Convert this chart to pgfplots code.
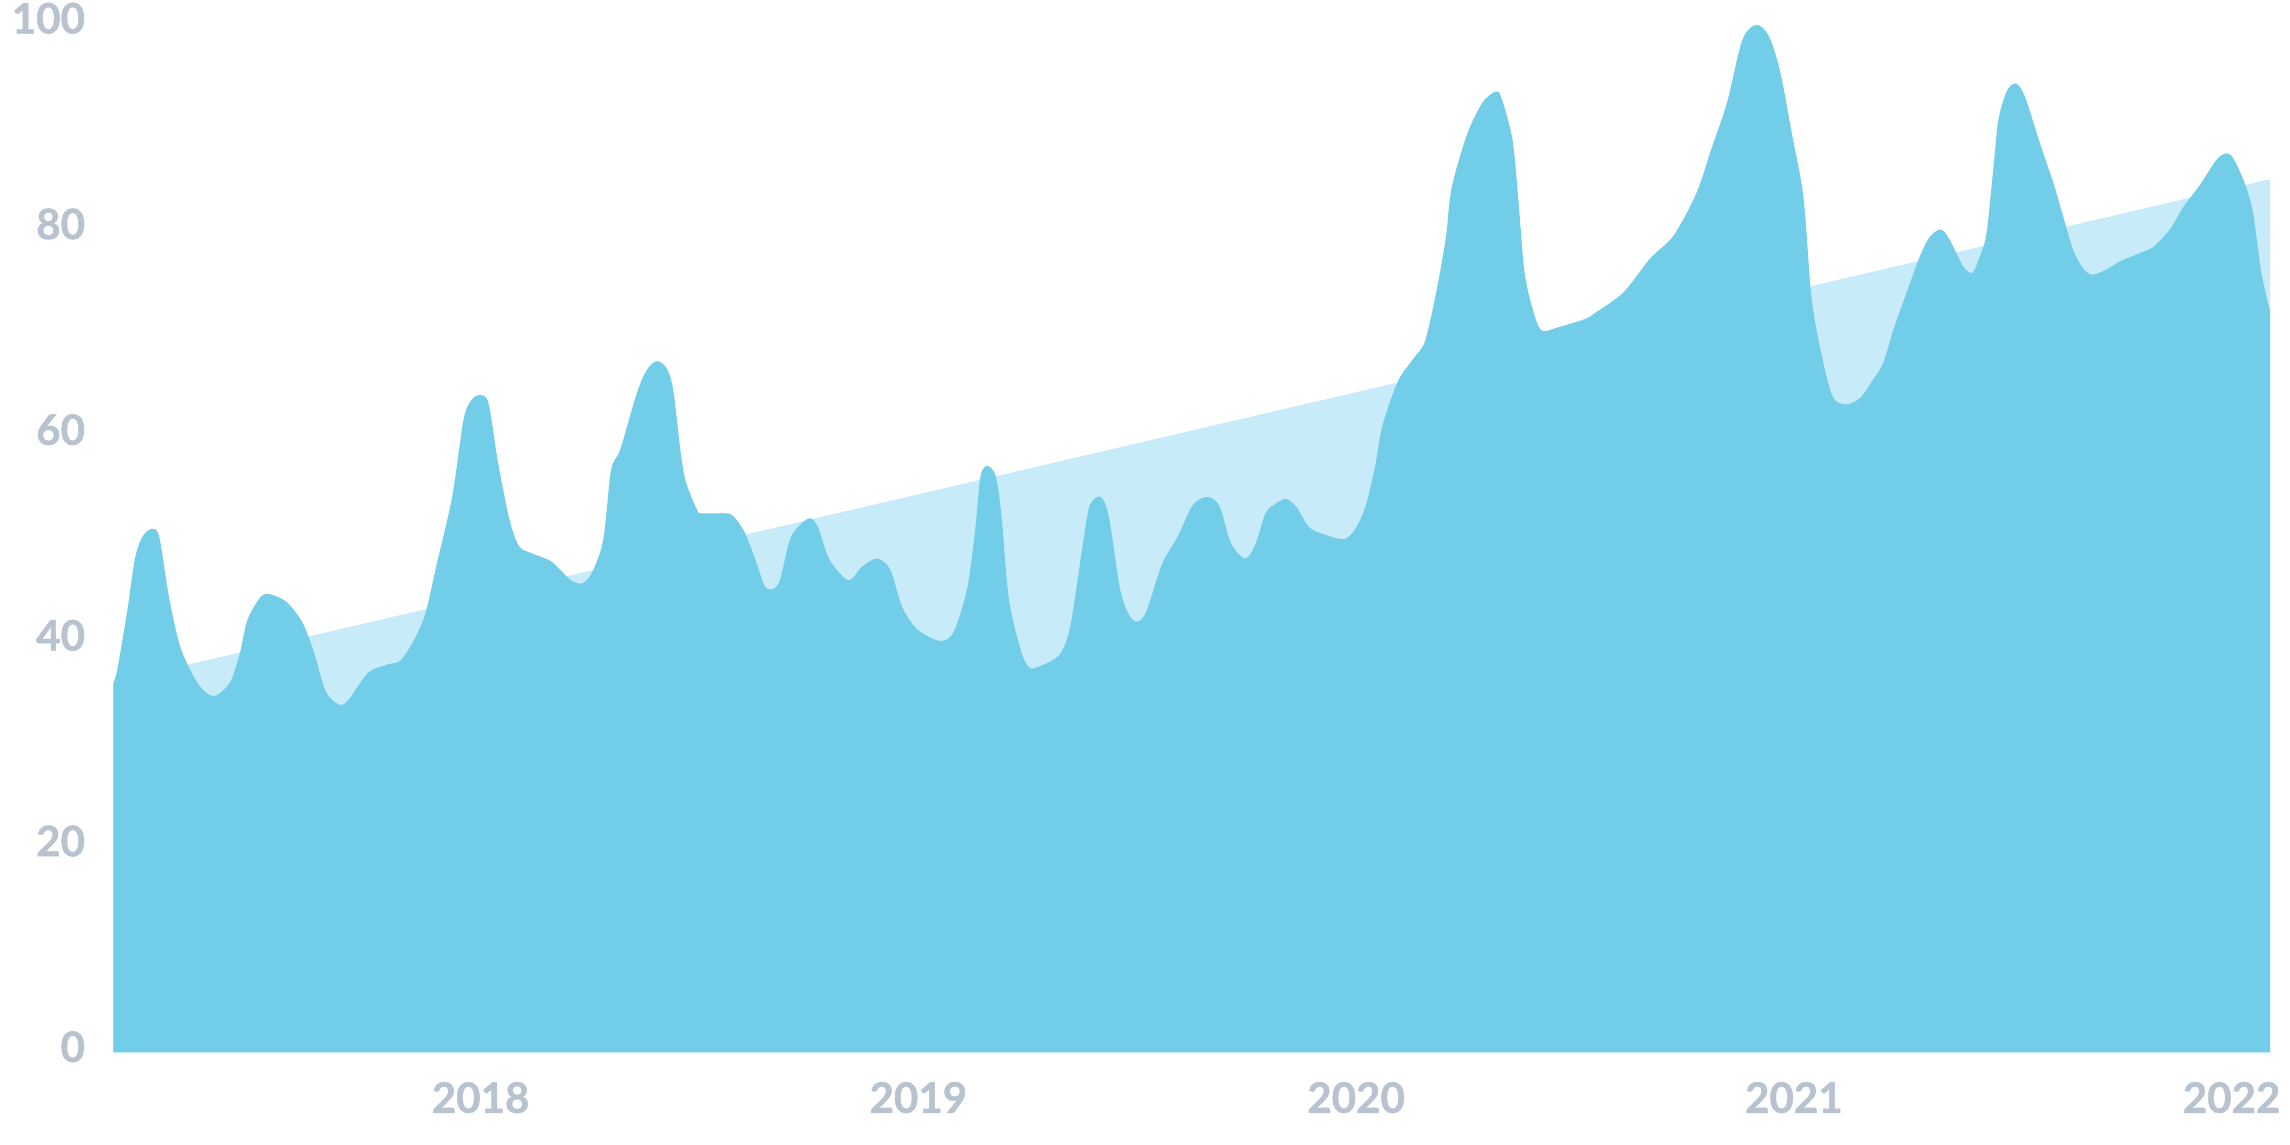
\documentclass[border=0pt]{standalone}
\usepackage{fontspec}
\setmainfont{Lato}
\newfontfamily\tickfont{Lato}[BoldFeatures={FakeBold=1.2}]
\usepackage{pgfplots}
\pgfplotsset{compat=1.18}
\definecolor{areamain}{RGB}{114,205,233}
\definecolor{arealight}{RGB}{199,235,248}
\definecolor{ticktext}{RGB}{184,195,207}

\begin{document}
\begin{tikzpicture}
\begin{axis}[
  scale only axis, width=369.2pt, height=176.05pt,
  xmin=2017.161, xmax=2022.088, ymin=0, ymax=100,
  xtick={2018,2019,2020,2021,2022},
  xticklabels={2018,2019,2020,2021,2022},
  ytick={0,20,40,60,80,100},
  axis line style={draw=none}, major tick length=0pt,
  /pgf/number format/assume math mode=true,
  tick label style={font=\fontsize{7.2}{8}\tickfont\bfseries, text=ticktext},
  yticklabel style={anchor=east, inner sep=0pt, xshift=-4.65pt, yshift=0.95pt},
  xticklabel style={anchor=north, inner sep=0pt, yshift=-4.9pt},
]
% trend band
\addplot[fill=arealight, draw=none] coordinates {(2017.161,36.0) (2022.088,84.9)} \closedcycle;
% main series
\addplot[fill=areamain, draw=none, smooth, tension=0.5] coordinates {
(2017.161,35.9) (2017.170,37.2) (2017.192,42.7) (2017.210,47.9) (2017.227,50.1)
(2017.249,50.9) (2017.266,50.1) (2017.288,44.3) (2017.314,39.4) (2017.349,36.2)
(2017.375,34.9) (2017.397,34.7) (2017.428,36.0) (2017.450,38.8) (2017.467,42.0)
(2017.498,44.3) (2017.522,44.5) (2017.559,43.7) (2017.594,41.7) (2017.620,38.8)
(2017.646,35.1) (2017.677,33.8) (2017.699,34.3) (2017.743,36.9) (2017.787,37.7)
(2017.817,38.1) (2017.848,40.1) (2017.874,42.7) (2017.900,47.5) (2017.935,54.0)
(2017.961,61.5) (2017.979,63.4) (2017.999,63.9) (2018.018,63.1) (2018.040,57.3)
(2018.066,51.8) (2018.088,49.2) (2018.118,48.5) (2018.162,47.7) (2018.206,45.9)
(2018.232,45.6) (2018.254,46.6) (2018.280,49.8) (2018.298,56.6) (2018.319,58.6)
(2018.357,64.1) (2018.379,66.3) (2018.402,67.2) (2018.425,66.5) (2018.440,64.4)
(2018.456,58.7) (2018.468,55.6) (2018.495,52.7) (2018.508,52.4) (2018.560,52.4)
(2018.578,52.1) (2018.604,50.5) (2018.631,47.5) (2018.648,45.4) (2018.663,45.0)
(2018.683,45.8) (2018.709,50.1) (2018.749,51.9) (2018.770,51.1) (2018.797,47.9)
(2018.840,45.9) (2018.871,47.2) (2018.906,48.0) (2018.936,46.9) (2018.963,43.3)
(2018.998,41.1) (2019.050,40.0) (2019.081,40.9) (2019.111,45.0) (2019.129,50.5)
(2019.142,56.0) (2019.158,57.0) (2019.177,56.0) (2019.190,52.1) (2019.207,44.0)
(2019.234,39.1) (2019.251,37.5) (2019.269,37.4) (2019.321,38.6) (2019.347,41.4)
(2019.374,48.9) (2019.391,53.1) (2019.416,54.0) (2019.435,52.1) (2019.461,45.0)
(2019.483,42.4) (2019.503,41.9) (2019.522,43.0) (2019.557,47.5) (2019.592,50.1)
(2019.627,53.2) (2019.660,54.0) (2019.688,53.1) (2019.714,49.5) (2019.747,48.0)
(2019.771,49.5) (2019.793,52.4) (2019.815,53.3) (2019.840,53.8) (2019.864,53.0)
(2019.894,51.0) (2019.938,50.2) (2019.973,49.9) (2019.997,50.8) (2020.021,53.0)
(2020.043,56.9) (2020.060,60.9) (2020.095,65.2) (2020.130,67.4) (2020.157,69.1)
(2020.183,73.9) (2020.205,79.2) (2020.218,84.0) (2020.253,89.2) (2020.288,92.3)
(2020.318,93.4) (2020.331,92.9) (2020.357,88.8) (2020.371,82.7) (2020.384,76.1)
(2020.401,72.6) (2020.423,70.2) (2020.462,70.5) (2020.523,71.3) (2020.550,72.0)
(2020.611,73.9) (2020.672,77.2) (2020.725,79.4) (2020.777,83.5) (2020.812,87.9)
(2020.847,92.3) (2020.882,98.4) (2020.914,99.9) (2020.943,98.8) (2020.969,95.3)
(2020.996,89.2) (2021.022,83.1) (2021.039,73.9) (2021.057,69.1) (2021.087,63.9)
(2021.118,63.0) (2021.151,63.6) (2021.181,65.4) (2021.204,67.0) (2021.227,70.2)
(2021.257,73.8) (2021.288,77.4) (2021.311,79.3) (2021.336,80.0) (2021.356,79.0)
(2021.387,76.4) (2021.408,75.8) (2021.425,77.4) (2021.440,79.6) (2021.456,86.1)
(2021.467,90.6) (2021.486,93.4) (2021.507,94.2) (2021.528,92.9) (2021.562,88.4)
(2021.593,84.5) (2021.615,81.3) (2021.638,78.0) (2021.661,76.2) (2021.682,75.6)
(2021.714,76.1) (2021.745,76.9) (2021.790,77.7) (2021.821,78.3) (2021.859,80.0)
(2021.890,82.2) (2021.927,84.3) (2021.966,86.8) (2021.988,87.4) (2022.004,86.9)
(2022.030,84.5) (2022.049,81.6) (2022.068,75.8) (2022.088,72.0)
} \closedcycle;
\end{axis}
\pgfresetboundingbox
\path[use as bounding box] ([shift={(-19.4pt,-15.875pt)}]current axis.south west)
  rectangle ([shift={(372.6pt,180.125pt)}]current axis.south west);
\end{tikzpicture}
\end{document}
